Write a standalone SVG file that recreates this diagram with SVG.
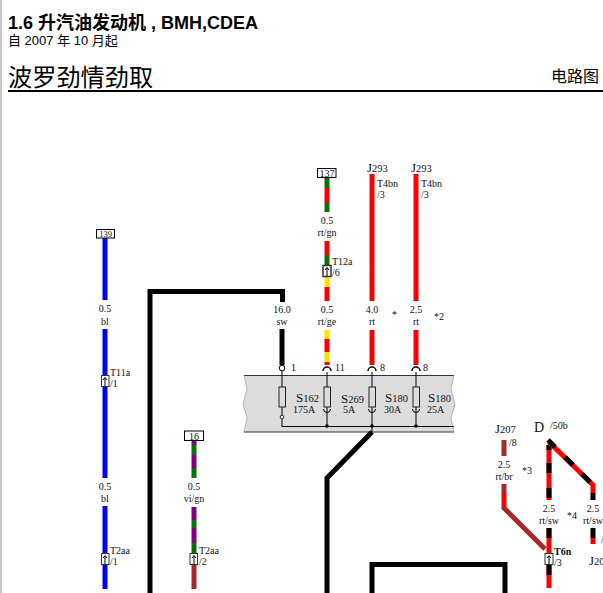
<svg xmlns="http://www.w3.org/2000/svg" width="603" height="593" viewBox="0 0 603 593">
<style>
text{font-family:"Liberation Serif","Noto Sans CJK SC",serif;font-size:10px;fill:#111}
.h{font-family:"Liberation Sans","Noto Sans CJK SC",sans-serif;fill:#000}
.c{text-anchor:middle}
.big{font-size:13px}
.sm{font-size:10.5px}
.w{fill:none;stroke-width:5;stroke-linejoin:miter}
.k{stroke:#000}.r{stroke:#f00}.g{stroke:#0a700a}.y{stroke:#ffe000}.b{stroke:#00f}.v{stroke:#800080}.n{stroke:#a52a2a}
.t{fill:none;stroke:#000;stroke-width:1}
.fuse{fill:none;stroke:#222;stroke-width:1}
.conn{fill:#fff;stroke:#333;stroke-width:1}
.tag{fill:#fff;stroke:#000;stroke-width:1}
.arc{fill:none;stroke:#000;stroke-width:1.5}
</style>
<rect x="0" y="0" width="2" height="593" fill="#c8c8c8"/>
<g id="header">
<text class="h" x="8" y="29" style="font-size:18px;font-weight:bold">1.6 升汽油发动机 , BMH,CDEA</text>
<text class="h" x="8" y="45" style="font-size:13px">自 2007 年 10 月起</text>
<text class="h" x="8" y="86" style="font-size:24.200px">波罗劲情劲取</text>
<text class="h" x="551" y="82" style="font-size:16px">电路图</text>
<rect x="8" y="90" width="595" height="2" fill="#000"/>
</g>
<g id="fuse-carrier">
<path d="M244 375H454L451 389L455 404L451 418L454 432H244L247 418L243 404L247 389Z" fill="#dcdcdc" stroke="none"/>
<path d="M244 375.500H454M244 432H454" stroke="#333" stroke-width="1" fill="none"/>
<path d="M244 375L247 389L243 404L247 418L244 432M454 375L451 389L455 404L451 418L454 432" stroke="#999" stroke-width="0.700" fill="none"/>
</g>
<g id="connectors">
<path class="w k" d="M150 593V291.500H282.500V302"/>
<path class="w k" d="M282 329V365"/>
<path class="w k" d="M372 432L327 478V593"/>
<path class="w k" d="M372 593V564.500H505V593"/>
<path class="w b" d="M105 238V300M105 329V478M105 506V589"/>
<path class="w g" d="M327 178V188M327 203V212M327 255V265"/>
<path class="w r" d="M327 188V203M327 241V255M327 287V301M327 339V352M327 362V365"/>
<path class="w y" d="M327 277V287M327 330V339M327 352V362"/>
<path class="w r" d="M372 174V301M372 330V365M416 174V301M416 330V365"/>
<path class="w v" d="M194 440V445M194 455V468M194 507V520M194 528V543"/>
<path class="w g" d="M194 445V455M194 468V478M194 520V528M194 543V553"/>
<path class="w n" d="M194 565V589"/>
<path class="w r" d="M504 493V509"/>
<path class="w n" d="M504 440V456M504 484V493"/>
<path class="w n" d="M503 507L545 549"/>
<path class="w r" d="M549 445V500M549 528V588"/>
<path class="w k" d="M549 445V450M549 463V473M549 488V498M549 528V538M549 565V575"/>
<path class="w r" d="M549 442L593 485V493"/>
<path class="w k" d="M548 440L555 447M565 457L573 465M582 474L590 482M593 493V500M593 528V538"/>
<path class="w r" d="M593 538V544"/>
<path class="t" d="M282 371V387M282 407V415M282 419V426.500H454M327 372V387M327 407V426M372 372V387M372 407V432M416 372V387M416 407V426"/>
</g>
<g id="fuses">
<circle cx="282" cy="368" r="2.800" fill="#fff" stroke="#000"/>
<circle cx="282" cy="417" r="1.800" fill="#fff" stroke="#000" stroke-width="0.800"/>
<path class="arc" d="M323 371a4 4 0 0 1 8 0M368 371a4 4 0 0 1 8 0M412 371a4 4 0 0 1 8 0"/>
<rect class="fuse" x="279" y="387" width="6.500" height="20"/>
<rect class="fuse" x="324" y="387" width="6.500" height="20"/>
<rect class="fuse" x="369" y="387" width="6.500" height="20"/>
<rect class="fuse" x="413" y="387" width="6.500" height="20"/>
<path class="t" d="M323.500 409a3.500 3.500 0 0 0 7 0M368.500 409a3.500 3.500 0 0 0 7 0M412.500 409a3.500 3.500 0 0 0 7 0" stroke-width="0.800"/>
<circle cx="327" cy="426" r="1.800"/><circle cx="372" cy="426" r="1.800"/><circle cx="416" cy="426" r="1.800"/>
<text x="291" y="371">1</text><text x="335" y="371">11</text><text x="380" y="371">8</text><text x="423" y="371">8</text>
<text class="big" x="296" y="402">S<tspan class="sm">162</tspan></text><text x="293" y="413">175A</text>
<text class="big" x="341" y="403">S<tspan class="sm">269</tspan></text><text x="343" y="413">5A</text>
<text class="big" x="385" y="402">S<tspan class="sm">180</tspan></text><text x="384" y="413">30A</text>
<text class="big" x="428" y="402">S<tspan class="sm">180</tspan></text><text x="427" y="413">25A</text>
</g>
<g id="wire-139">
<rect class="tag" x="96.500" y="229.500" width="18" height="8.500"/><text class="c" x="105.500" y="237" style="font-size:8.500px">139</text>
<text class="c" x="105" y="312">0.5</text><text class="c" x="105" y="325">bl</text>
<rect class="conn" x="101.500" y="375.500" width="7.500" height="11"/><path class="t" d="M105 386V378M103 380L105 377.500L107 380"/>
<text x="110" y="376">T11a</text><text x="110" y="387">/1</text>
<text class="c" x="105" y="490">0.5</text><text class="c" x="105" y="502">bl</text>
<rect class="conn" x="101.500" y="553.500" width="7.500" height="11"/><path class="t" d="M105 564V556M103 558L105 555.500L107 558"/>
<text x="110" y="554">T2aa</text><text x="110" y="565">/1</text>
</g>
<g id="wire-16">
<rect class="tag" x="184.500" y="431" width="19" height="9.500"/><text class="c" x="194" y="439.500">16</text>
<text class="c" x="194" y="490">0.5</text><text class="c" x="194" y="502">vi/gn</text>
<rect class="conn" x="190" y="553.500" width="7.500" height="11"/><path class="t" d="M194 564V556M192 558L194 555.500L196 558"/>
<text x="199" y="554">T2aa</text><text x="199" y="565">/2</text>
</g>
<g id="wire-sw"><text class="c" x="282" y="313">16.0</text><text class="c" x="282" y="325">sw</text></g>
<g id="wire-137">
<rect class="tag" x="317.500" y="168.500" width="18.500" height="9"/><text class="c" x="327" y="177">137</text>
<text class="c" x="327" y="224">0.5</text><text class="c" x="327" y="236">rt/gn</text>
<rect class="conn" x="323" y="265.500" width="8" height="11" style="stroke-width:1.500"/><path class="t" d="M327 276V268M325 270L327 267.500L329 270"/>
<text x="332" y="265">T12a</text><text x="332" y="276">/6</text>
<text class="c" x="327" y="313">0.5</text><text class="c" x="327" y="325">rt/ge</text>
</g>
<g id="wire-j293-a">
<text class="big" x="367" y="172">J<tspan class="sm">293</tspan></text><text x="377" y="187">T4bn</text><text x="377" y="198">/3</text>
<text class="c" x="372" y="313">4.0</text><text class="c" x="372" y="325">rt</text><text x="392" y="318">*</text>
</g>
<g id="wire-j293-b">
<text class="big" x="411" y="172">J<tspan class="sm">293</tspan></text><text x="421" y="187">T4bn</text><text x="421" y="198">/3</text>
<text class="c" x="416" y="313">2.5</text><text class="c" x="416" y="325">rt</text><text x="434" y="320">*2</text>
</g>
<g id="wire-j207">
<text class="big" x="495" y="433">J<tspan class="sm">207</tspan></text><text x="509" y="446">/8</text>
<text class="c" x="504" y="468">2.5</text><text class="c" x="504" y="480">rt/br</text><text x="522" y="474">*3</text>
</g>
<g id="wire-d">
<text x="534" y="432" style="font-size:14px">D</text><text x="550" y="429">/50b</text>
<text class="c" x="549" y="512">2.5</text><text class="c" x="549" y="524">rt/sw</text><text x="567" y="519">*4</text>
<text class="c" x="593" y="512">2.5</text><text class="c" x="593" y="524">rt/sw</text>
<text x="601" y="543">/</text>
<rect class="conn" x="545" y="553.500" width="8" height="11"/><path class="t" d="M549 564V556M547 558L549 555.500L551 558"/>
<text x="554" y="555" style="font-weight:bold">T6n</text><text x="554" y="566">/3</text>
<text class="big" x="589" y="565">J<tspan class="sm">20</tspan></text>
</g>
</svg>
